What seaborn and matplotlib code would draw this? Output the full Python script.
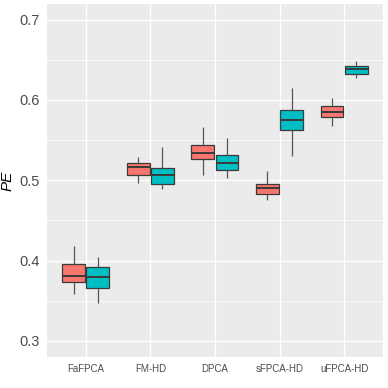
import numpy as np
import pandas as pd
import matplotlib
matplotlib.use("Agg")
import matplotlib.pyplot as plt
from matplotlib.ticker import MultipleLocator
import seaborn as sns

# methods on the x axis
methods = ["FaFPCA", "FM-HD", "DPCA", "sFPCA-HD", "uFPCA-HD"]
groups = ["G1", "G2"]

# five-number summaries: [min, q1, median, q3, max]
g1_stats = [
    [0.358, 0.373, 0.381, 0.396, 0.418],
    [0.497, 0.507, 0.516, 0.522, 0.529],
    [0.507, 0.527, 0.534, 0.544, 0.566],
    [0.475, 0.483, 0.490, 0.496, 0.512],
    [0.568, 0.579, 0.585, 0.592, 0.602],
]
g2_stats = [
    [0.347, 0.366, 0.379, 0.392, 0.404],
    [0.489, 0.495, 0.506, 0.515, 0.541],
    [0.503, 0.513, 0.522, 0.532, 0.553],
    [0.530, 0.563, 0.575, 0.587, 0.615],
    [0.628, 0.632, 0.638, 0.642, 0.649],
]

rows = []
for g, stats in zip(groups, [g1_stats, g2_stats]):
    for m, vals in zip(methods, stats):
        for v in vals:
            rows.append({"method": m, "group": g, "PE": v})
df = pd.DataFrame(rows)

sns.set_theme(style="darkgrid", rc={
    "axes.facecolor": "#EBEBEB",
    "grid.color": "white",
    "axes.edgecolor": "none",
})
plt.rcParams["font.family"] = ["Liberation Sans", "DejaVu Sans"]

fig = plt.figure(figsize=(3.88, 3.88), dpi=100)
ax = fig.add_axes([0.121, 0.080, 0.866, 0.910])

sns.boxplot(data=df, x="method", y="PE", hue="group", order=methods,
            hue_order=groups, palette=["#F8766D", "#00BFC4"], saturation=1,
            whis=(0, 100), width=0.75, gap=0.06, linewidth=0.9,
            linecolor="#3a3a3a", showcaps=False,
            whiskerprops={"color": "#555555"},
            medianprops={"linewidth": 1.4},
            legend=False, ax=ax)

ax.set_ylim(0.280, 0.7197)
ax.set_xlim(-0.6, 4.6)
ax.yaxis.set_major_locator(MultipleLocator(0.1))
ax.yaxis.set_minor_locator(MultipleLocator(0.05))
ax.set_yticklabels([f"{t:.1f}" for t in ax.get_yticks()])
ax.grid(which="major", color="white", lw=1.0)
ax.grid(which="minor", axis="y", color="white", lw=0.5)
ax.set_axisbelow(True)
for s in ax.spines.values():
    s.set_visible(False)

ax.tick_params(axis="both", which="major", length=3, width=0.8,
               color="#333333", labelcolor="#4D4D4D", pad=2)
ax.tick_params(axis="y", labelsize=10.5)
ax.tick_params(axis="x", labelsize=7)
ax.tick_params(which="minor", length=0)
ax.set_xlabel("")
ax.set_ylabel("PE", fontstyle="italic", fontsize=11, color="black", labelpad=4)

fig.savefig("out.png", dpi=100)
